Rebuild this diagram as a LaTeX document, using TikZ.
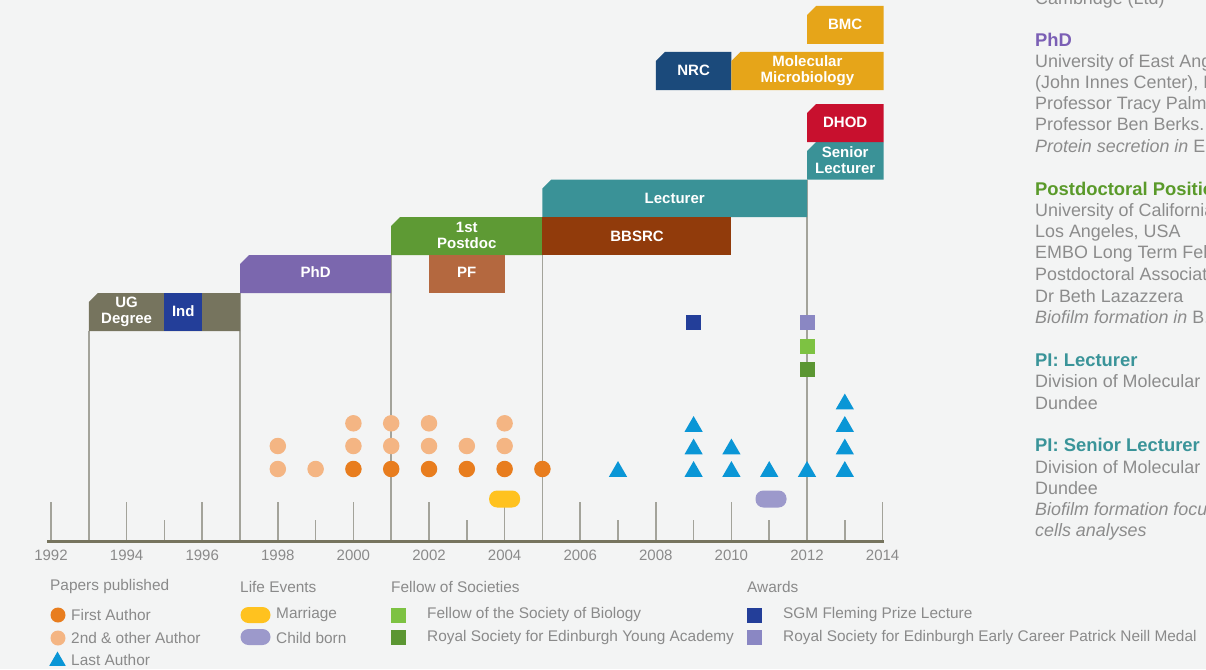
\documentclass[tikz,border=0pt]{standalone}
\usepackage{fontspec}
\setmainfont{Liberation Sans}
\usetikzlibrary{shapes.geometric}
\definecolor{bg}{HTML}{F3F4F4}
\definecolor{labgray}{HTML}{8A8A8A}
\definecolor{colgray}{HTML}{8C8C8C}
\definecolor{axiscol}{HTML}{76745E}
\definecolor{tickcol}{HTML}{A3A39A}
\definecolor{ugcol}{HTML}{76745E}
\definecolor{indcol}{HTML}{233E99}
\definecolor{phdcol}{HTML}{7B67AE}
\definecolor{pdcol}{HTML}{5E9A34}
\definecolor{pfcol}{HTML}{B4683F}
\definecolor{teal}{HTML}{3A9297}
\definecolor{bbcol}{HTML}{913B0B}
\definecolor{dhcol}{HTML}{C8102E}
\definecolor{nrccol}{HTML}{1B4A7B}
\definecolor{gold}{HTML}{E6A519}
\definecolor{fauth}{HTML}{E87D1E}
\definecolor{oauth}{HTML}{F4B583}
\definecolor{lauth}{HTML}{0A96D6}
\definecolor{marr}{HTML}{FFC21F}
\definecolor{child}{HTML}{9C99CB}
\definecolor{sgm}{HTML}{233E99}
\definecolor{rse}{HTML}{8A87C3}
\definecolor{fsb}{HTML}{7DC242}
\definecolor{rsya}{HTML}{5B9632}
\definecolor{hphd}{HTML}{7B5FB5}
\definecolor{hpd}{HTML}{5A9A2A}
\definecolor{hpi}{HTML}{3A9499}
\newcommand\cbox[5]{\fill[#5] (#1,#4) -- (#1,{#2+9}) -- ({#1+9},#2) -- (#3,#2) -- (#3,#4) -- cycle;}
\tikzset{
  blk/.style={text=white, font=\bfseries\fontsize{15}{16}\selectfont, align=center, inner sep=0},
  yrlab/.style={text=labgray, font=\fontsize{15}{15}\selectfont, inner sep=0},
  leg/.style={anchor=west, text=labgray, font=\fontsize{15.4}{16}\selectfont, inner sep=0},
  col/.style={anchor=base west, text=colgray, font=\fontsize{17.9}{18}\selectfont, inner sep=0},
  colh/.style={col, font=\bfseries\fontsize{18.4}{18}\selectfont},
  tick/.style={draw=tickcol, line width=1.6pt},
  vline/.style={draw=tickcol, line width=1.6pt},
  dot/.style={circle, inner sep=0, minimum size=16.5pt},
  fa/.style={dot, fill=fauth},
  oa/.style={dot, fill=oauth},
  la/.style={regular polygon, regular polygon sides=3, inner sep=0, minimum size=21pt, fill=lauth, anchor=south},
  pill/.style={rectangle, rounded corners=8pt, inner sep=0, minimum width=31pt, minimum height=17pt},
  sq/.style={rectangle, inner sep=0, minimum size=15pt},
}
\begin{document}
\begin{tikzpicture}[x=1pt,y=-1pt]
\clip (0,0) rectangle (1206,669);
\fill[bg] (0,0) rectangle (1206,669);

% connector coordinates
\coordinate (ugb) at (88.8,331);   \coordinate (a93) at (88.8,541);
\coordinate (phdb) at (240,293);   \coordinate (a97) at (240,541);
\coordinate (pdb) at (391.2,255);  \coordinate (a01) at (391.2,541);
\coordinate (lecb) at (542.4,217); \coordinate (a05) at (542.4,541);
\coordinate (slb) at (807,179.5);  \coordinate (a12) at (807,541);
\draw[vline] (ugb) -- (a93);
\draw[vline] (phdb) -- (a97);
\draw[vline] (pdb) -- (a01);
\draw[vline] (lecb) -- (a05);
\draw[vline] (slb) -- (a12);

% ticks
\foreach \yr in {1992,1994,...,2014}
  \draw[tick] ({51+37.8*(\yr-1992)},502) -- ({51+37.8*(\yr-1992)},541);
\foreach \yr in {1995,1999,2003,2007,2009,2011,2013}
  \draw[tick] ({51+37.8*(\yr-1992)},520) -- ({51+37.8*(\yr-1992)},541);
\draw[axiscol, line width=3.5pt] (47,541.5) -- (884,541.5);
\foreach \yr in {1992,1994,...,2014}
  \node[yrlab] (y\yr) at ({51+37.8*(\yr-1992)},555.5) {\yr};

% blocks
\cbox{88.8}{293}{240}{331}{ugcol}
\fill[indcol] (164.4,293) rectangle (202.2,331);
\node[blk] (ug) at (126.6,312) {UG\\Degree};
\node[blk] (ind) at (183.3,311) {Ind};
\cbox{240}{255}{391.2}{293}{phdcol}
\node[blk] (phd) at (315.6,272) {PhD};
\cbox{391.2}{217}{542.4}{255}{pdcol}
\node[blk] (pd) at (466.8,235.5) {1st\\Postdoc};
\fill[pfcol] (429,255) rectangle (504.6,293);
\node[blk] (pf) at (466.8,272) {PF};
\cbox{542.4}{179.5}{807}{217}{teal}
\node[blk] (lec) at (674.7,198) {Lecturer};
\fill[bbcol] (542.4,217) rectangle (731.4,255);
\node[blk] (bb) at (637,236) {BBSRC};
\cbox{807}{142}{883.5}{179.5}{teal}
\node[blk] (sl) at (845.2,160) {Senior\\Lecturer};
\cbox{807}{104}{883.5}{142}{dhcol}
\node[blk] (dh) at (845.2,122) {DHOD};
\cbox{655.8}{52}{731.4}{90}{nrccol}
\node[blk] (nrc) at (693.6,70.5) {NRC};
\cbox{731.4}{52}{883.5}{90}{gold}
\node[blk] (mm) at (807.4,70.5) {Molecular\\Microbiology};
\cbox{807}{6}{883.5}{44}{gold}
\node[blk] (bmc) at (845.2,24) {BMC};

% awards
\node[sq, fill=sgm] (aw1) at (693.6,322) {};
\node[sq, fill=rse] (aw2) at (807,322) {};
\node[sq, fill=fsb] (aw3) at (807,346.5) {};
\node[sq, fill=rsya] (aw4) at (807,369.5) {};

% papers
\node[oa] (o98a) at (277.8,469) {};
\node[oa] (o98b) at (277.8,446) {};
\node[oa] (o99a) at (315.6,469) {};
\node[fa] (f00) at (353.4,469) {};
\node[oa] (o00b) at (353.4,446) {};
\node[oa] (o00c) at (353.4,423.3) {};
\node[fa] (f01) at (391.2,469) {};
\node[oa] (o01b) at (391.2,446) {};
\node[oa] (o01c) at (391.2,423.3) {};
\node[fa] (f02) at (429,469) {};
\node[oa] (o02b) at (429,446) {};
\node[oa] (o02c) at (429,423.3) {};
\node[fa] (f03) at (466.8,469) {};
\node[oa] (o03b) at (466.8,446) {};
\node[fa] (f04) at (504.6,469) {};
\node[oa] (o04b) at (504.6,446) {};
\node[oa] (o04c) at (504.6,423.3) {};
\node[fa] (f05) at (542.4,469) {};
\node[la] (l07) at (618,477) {};
\node[la] (l09a) at (693.6,477) {};
\node[la] (l09b) at (693.6,454.5) {};
\node[la] (l09c) at (693.6,432) {};
\node[la] (l10a) at (731.4,477) {};
\node[la] (l10b) at (731.4,454.5) {};
\node[la] (l11) at (769.2,477) {};
\node[la] (l12) at (807,477) {};
\node[la] (l13a) at (844.8,477) {};
\node[la] (l13b) at (844.8,454.5) {};
\node[la] (l13c) at (844.8,432) {};
\node[la] (l13d) at (844.8,409.5) {};

% life events
\node[pill, fill=marr] (mar) at (504.6,499) {};
\node[pill, fill=child] (chb) at (771,499) {};

% legend
\node[leg] (lg1) at (50,587) {Papers published};
\node[fa, minimum size=15pt] (lgf) at (58,615) {};
\node[leg] (lgft) at (71,615) {First Author};
\node[oa, minimum size=15pt] (lgo) at (58,638) {};
\node[leg] (lgot) at (71,638) {2nd \& other Author};
\node[la, minimum size=19pt] (lgl) at (57.5,666) {};
\node[leg] (lglt) at (71,659.5) {Last Author};
\node[leg] (lg2) at (240,587) {Life Events};
\node[pill, fill=marr, minimum width=30pt, minimum height=16pt] (lgm) at (255.5,615) {};
\node[leg] (lgmt) at (276,615) {Marriage};
\node[pill, fill=child, minimum width=30pt, minimum height=16pt] (lgc) at (255.5,637) {};
\node[leg] (lgct) at (276,637.5) {Child born};
\node[leg] (lg3) at (391,587) {Fellow of Societies};
\node[sq, fill=fsb] (lgs1) at (398.5,615) {};
\node[leg] (lgs1t) at (427,615) {Fellow of the Society of Biology};
\node[sq, fill=rsya] (lgs2) at (398.5,637) {};
\node[leg] (lgs2t) at (427,638) {Royal Society for Edinburgh Young Academy};
\node[leg] (lg4) at (747,587) {Awards};
\node[sq, fill=sgm] (lga1) at (754.5,615) {};
\node[leg] (lga1t) at (783,615) {SGM Fleming Prize Lecture};
\node[sq, fill=rse] (lga2) at (754.5,637) {};
\node[leg] (lga2t) at (783,638) {Royal Society for Edinburgh Early Career Patrick Neill Medal};

% right column
\node[col] (c0) at (1035,5) {Cambridge (Ltd)};
\node[colh, text=hphd] (h1) at (1035,46) {PhD};
\node[col] (c1) at (1035,67) {University of East Anglia};
\node[col] (c2) at (1035,88) {(John Innes Center), Norwich};
\node[col] (c3) at (1035,109) {Professor Tracy Palmer \&};
\node[col] (c4) at (1035,130) {Professor Ben Berks.};
\node[col] (c5) at (1035,152) {\itshape Protein secretion in \upshape E. coli};
\node[colh, text=hpd] (h2) at (1035,195) {Postdoctoral Position};
\node[col] (c6) at (1035,216) {University of California};
\node[col] (c7) at (1035,237) {Los Angeles, USA};
\node[col] (c8) at (1035,258) {EMBO Long Term Fellow};
\node[col] (c9) at (1035,280) {Postdoctoral Associate with};
\node[col] (c10) at (1035,302) {Dr Beth Lazazzera};
\node[col] (c11) at (1035,323) {\itshape Biofilm formation in \upshape B. subtilis};
\node[colh, text=hpi] (h3) at (1035,366) {PI: Lecturer};
\node[col] (c12) at (1035,387) {Division of Molecular Microbiology};
\node[col] (c13) at (1035,409) {Dundee};
\node[colh, text=hpi] (h4) at (1035,451) {PI: Senior Lecturer};
\node[col] (c14) at (1035,473) {Division of Molecular Microbiology};
\node[col] (c15) at (1035,494) {Dundee};
\node[col] (c16) at (1035,515) {\itshape Biofilm formation focusing on single};
\node[col] (c17) at (1035,536) {\itshape cells analyses};
\end{tikzpicture}
\end{document}
